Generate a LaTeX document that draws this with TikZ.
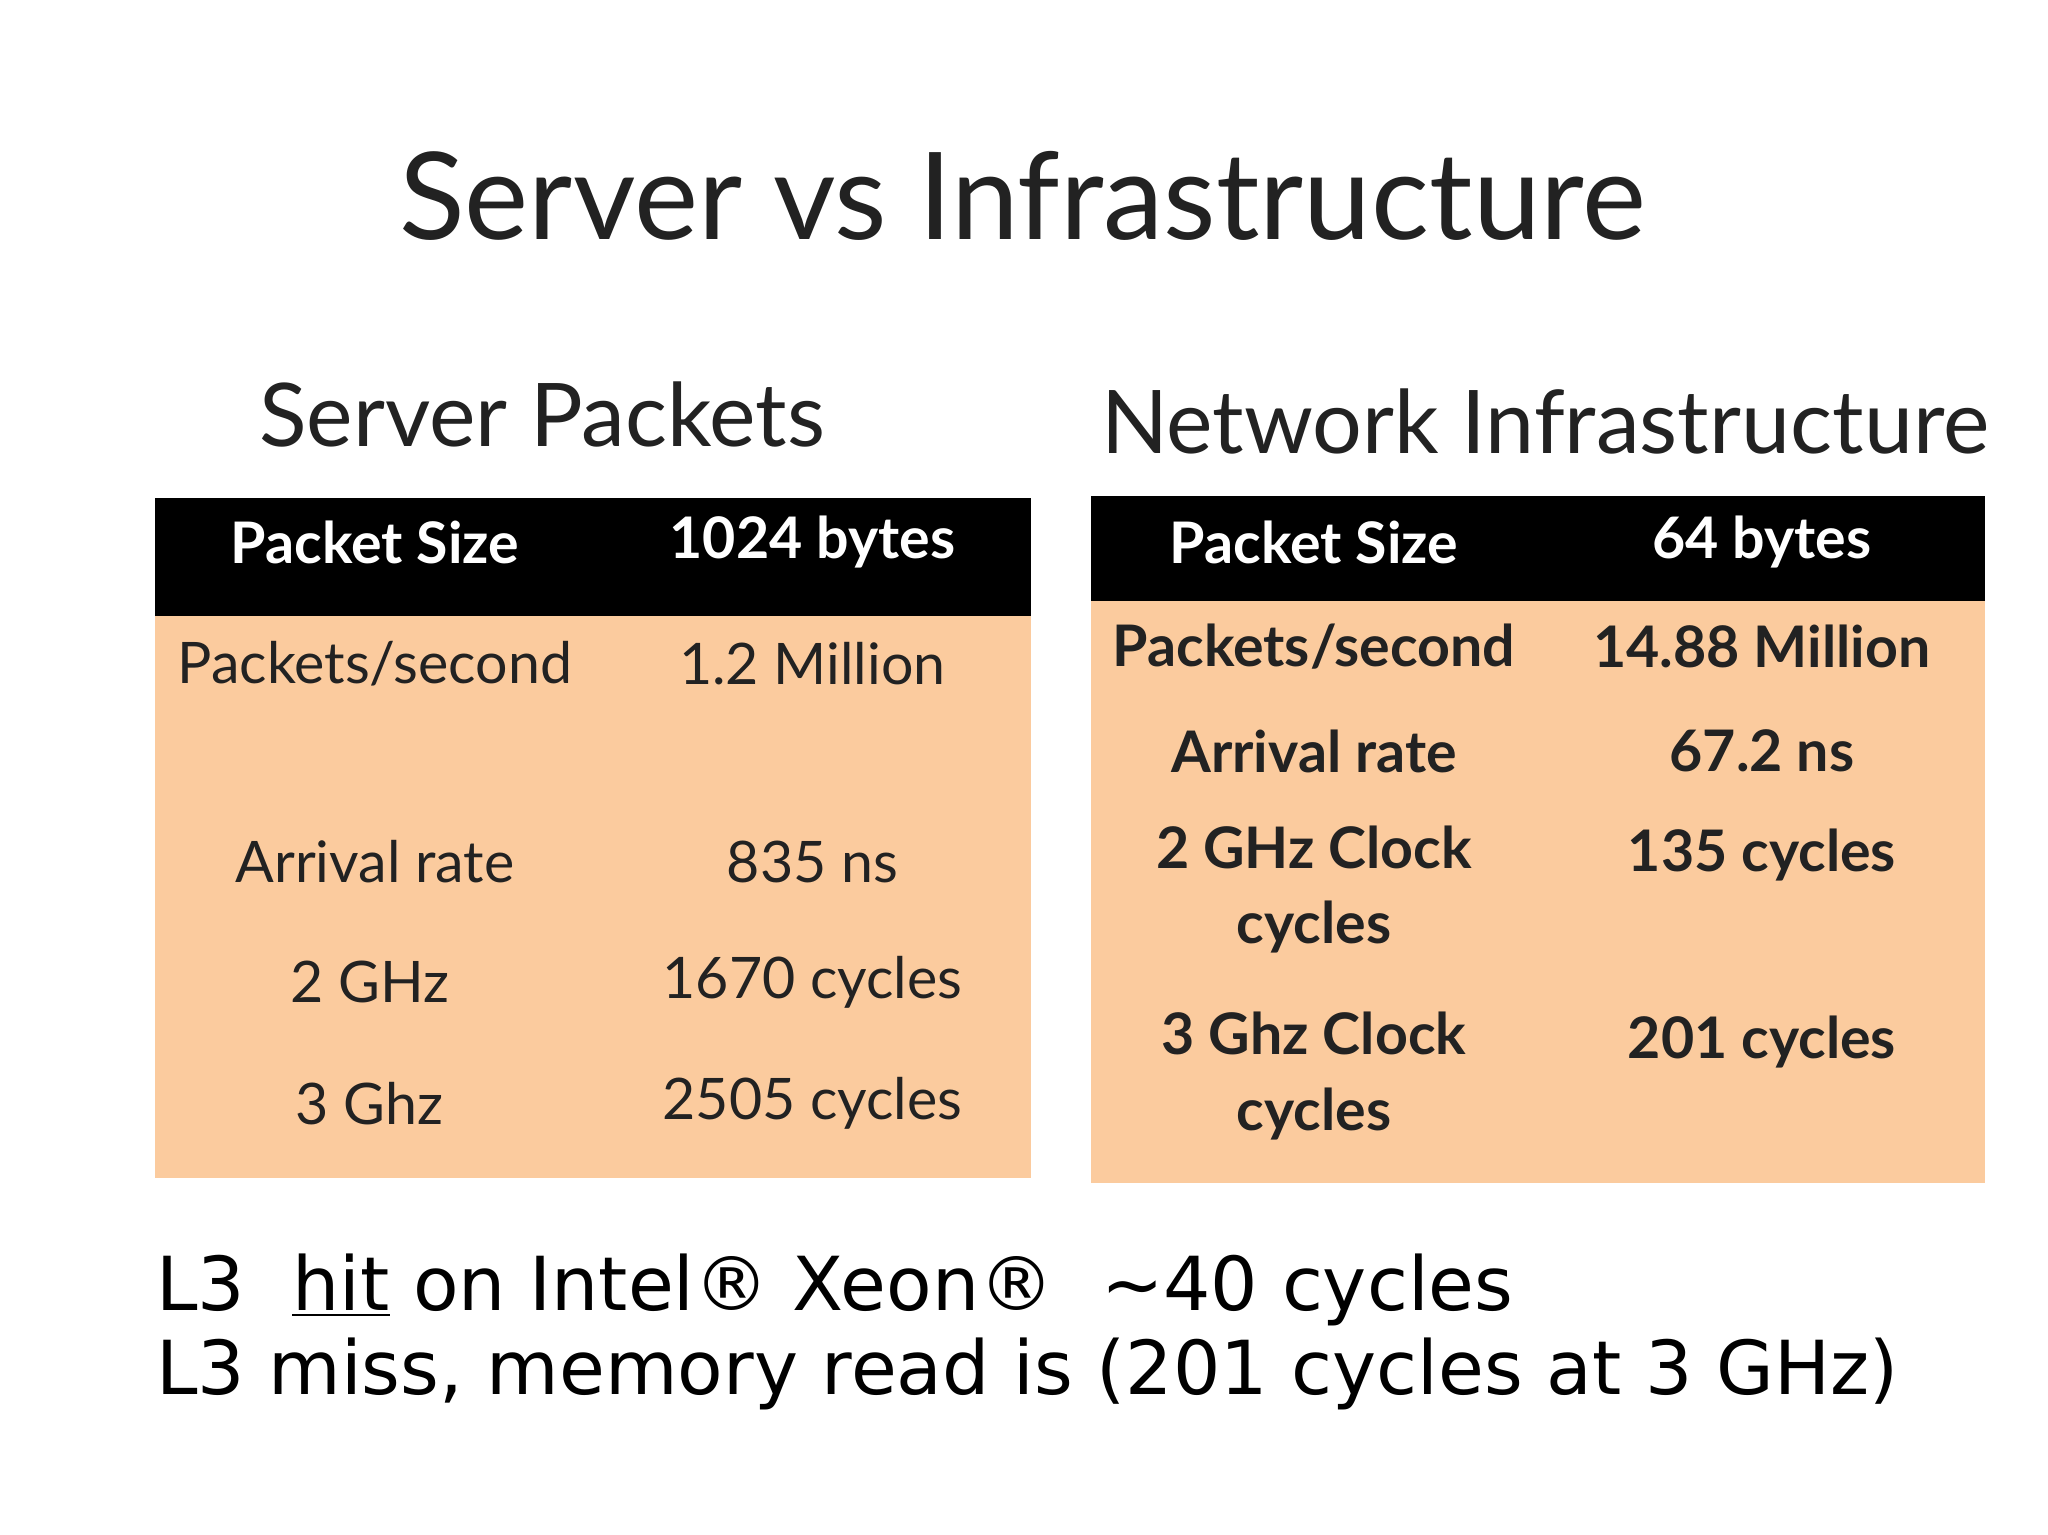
\documentclass[tikz,border=0pt]{standalone}
\usepackage{fontspec}
\setmainfont{Lato}
\newfontfamily\dejavu{DejaVu Sans}
\definecolor{peach}{RGB}{251,203,158}
\definecolor{txt}{RGB}{34,34,34}
\begin{document}
\begin{tikzpicture}[x=0.01306cm,y=-0.01306cm,
  cell/.style={text=txt,font=\fontsize{16.3}{20}\selectfont,align=center,anchor=center},
  hcell/.style={text=white,font=\fontsize{16.3}{20}\selectfont\bfseries,anchor=center},
  rcell/.style={text=txt,font=\fontsize{16.3}{21.5}\selectfont\bfseries,align=center,anchor=center}]
\useasboundingbox[fill=white] (0,0) rectangle (1568,1175);
\node[text=txt,font=\fontsize{34.5}{40}\selectfont] (title) at (783,150) {Server vs Infrastructure};
\node[text=txt,font=\fontsize{25}{30}\selectfont] (st) at (415,317) {Server Packets};
\node[text=txt,font=\fontsize{25}{30}\selectfont] (nt) at (1183,323) {Network Infrastructure};
% left table
\fill[black] (119,381) rectangle (789,472);
\fill[peach] (119,472) rectangle (789,902);
\node[hcell] (l11) at (287,415) {Packet Size};
\node[hcell] (l12) at (622,415) {1024 bytes};
\node[cell] (l21) at (287,508) {Packets/second};
\node[cell] (l22) at (622,508) {1.2 Million};
\node[cell] (l31) at (287,660) {Arrival rate};
\node[cell] (l32) at (622,660) {835 ns};
\node[cell] (l41) at (283,752) {2 GHz};
\node[cell] (l42) at (622,752) {1670 cycles};
\node[cell] (l51) at (283,845) {3 Ghz};
\node[cell] (l52) at (622,845) {2505 cycles};
% right table
\fill[black] (835,380) rectangle (1520,460);
\fill[peach] (835,460) rectangle (1520,906);
\node[hcell] (r11) at (1006,415) {Packet Size};
\node[hcell] (r12) at (1349,415) {64 bytes};
\node[rcell] (r21) at (1006,495) {Packets/second};
\node[rcell] (r22) at (1349,495) {14.88 Million};
\node[rcell] (r31) at (1006,575) {Arrival rate};
\node[rcell] (r32) at (1349,575) {67.2 ns};
\node[rcell] (r41) at (1006,681) {2 GHz Clock\\cycles};
\node[rcell] (r42) at (1349,655) {135 cycles};
\node[rcell] (r51) at (1006,824) {3 Ghz Clock\\cycles};
\node[rcell] (r52) at (1349,798) {201 cycles};
% bottom
\node[anchor=base west,inner sep=0,text=black,font=\dejavu\fontsize{21.2}{25}\selectfont] (b1) at (119,1003) {L3\ \ \underline{hit} on Intel® Xeon®\ \ \textasciitilde40 cycles};
\node[anchor=base west,inner sep=0,text=black,font=\dejavu\fontsize{21.2}{25}\selectfont] (b2) at (119,1068) {L3 miss, memory read is (201 cycles at 3 GHz)};
\end{tikzpicture}
\end{document}
